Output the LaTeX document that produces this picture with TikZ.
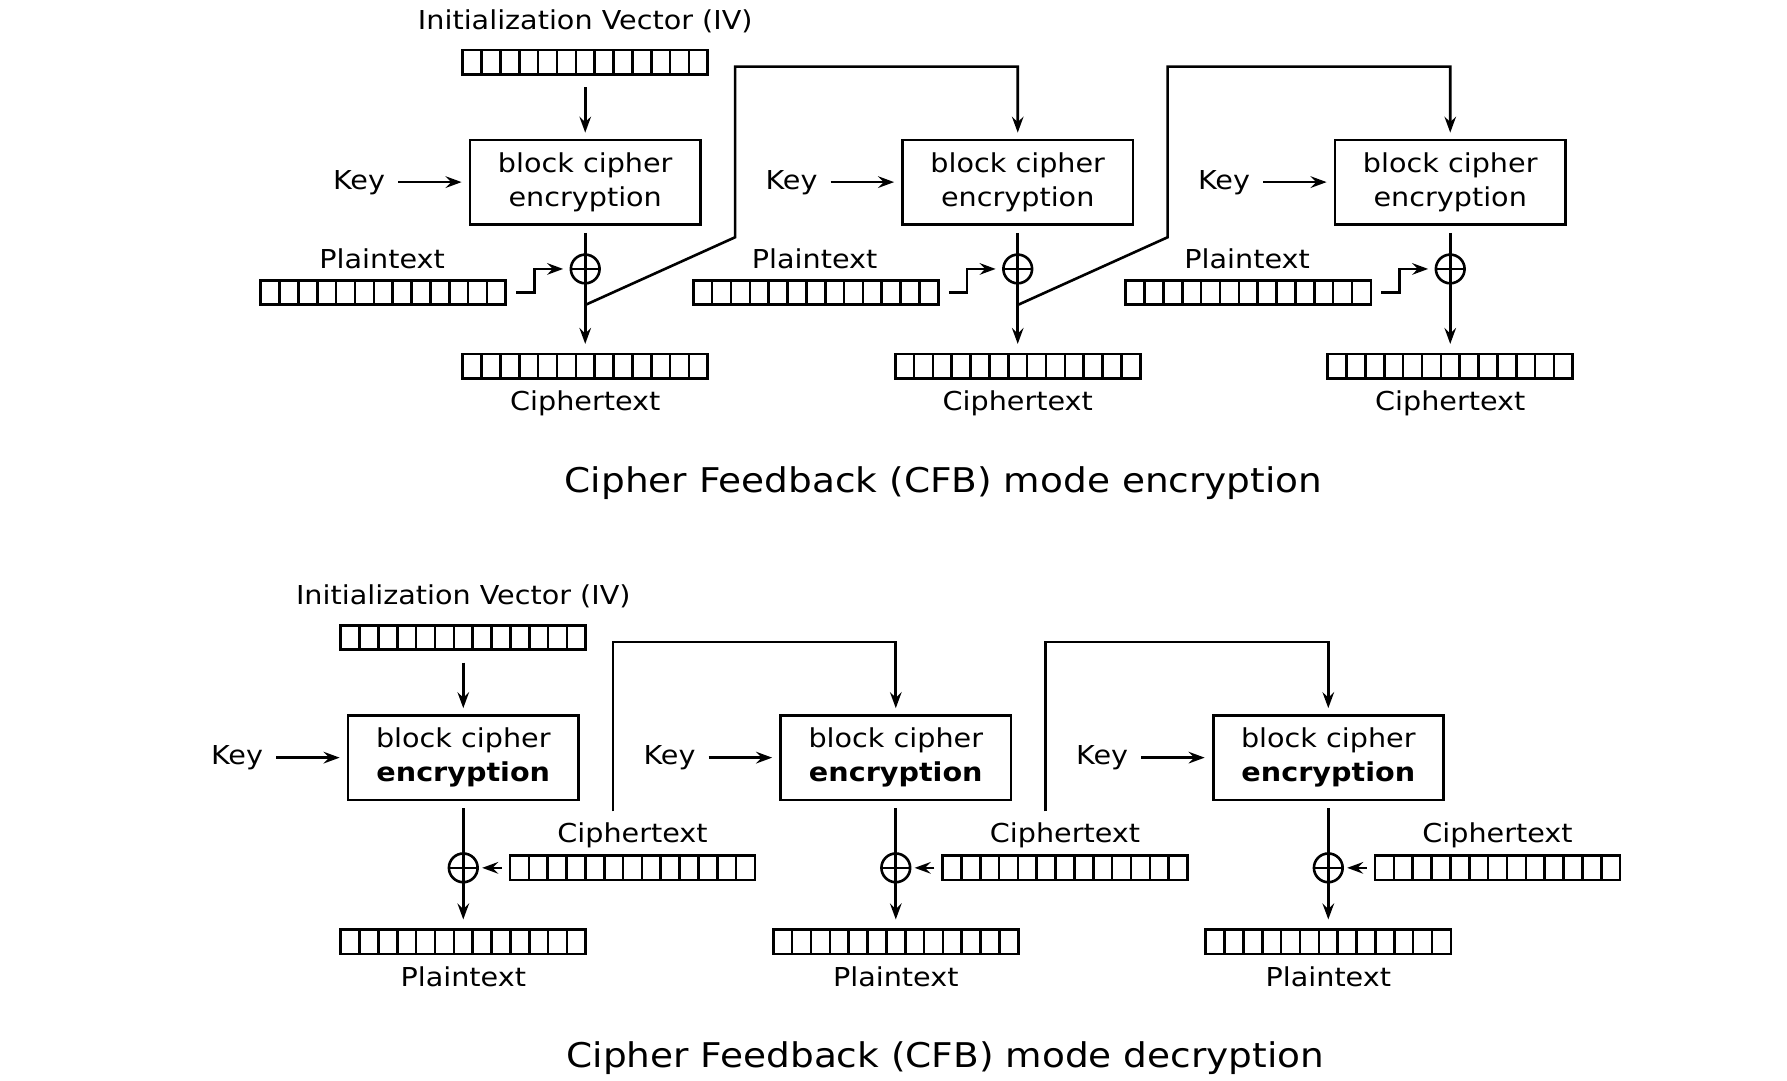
\documentclass[tikz,border=0pt]{standalone}
\usepackage{fontspec}
\setmainfont[FakeStretch=1.1]{DejaVu Sans}
\usetikzlibrary{arrows.meta, positioning, calc}

\begin{document}
\begin{tikzpicture}[
  every node/.style={font=\fontsize{6.5pt}{8.45pt}\selectfont, inner sep=0pt},
  box/.style={draw, line width=0.65pt, minimum width=2.02cm, minimum height=0.74cm,
              align=center},
  reg/.style={draw, line width=0.65pt, minimum width=2.15cm, minimum height=0.213cm,
              path picture={\foreach \k in {1,...,12}
                \draw[line width=0.65pt]
                  ($(path picture bounding box.south west)!\k/13!(path picture bounding box.south east)$)
                  -- ++(0,0.5);}},
  xor/.style={draw, circle, line width=0.65pt, minimum size=0.252cm,
              path picture={\draw[line width=0.65pt]
                (path picture bounding box.west) -- (path picture bounding box.east)
                (path picture bounding box.north) -- (path picture bounding box.south);}},
  lbl/.style={anchor=base},
  ttl/.style={anchor=base, font=\fontsize{8.5pt}{10pt}\selectfont},
  arr/.style={-{Stealth[length=4pt, width=2.9pt, inset=1.4pt]}, line width=0.65pt},
]
  \useasboundingbox (0,0) rectangle (15.68,-9.48);

  % encryption
  \node[lbl] (eivl) at (5.135,-0.257) {Initialization Vector (IV)};
  \node[reg] (eiv) at (5.135,-0.545) {};
  \foreach \i [evaluate=\i as \x using 5.135+3.795*\i] in {0,1,2} {
    \node[box] (eb\i) at (\x,-1.598) {block cipher\\encryption};
    \node[lbl] (ek\i) at (\x-1.985,-1.66) {Key};
    \node[xor] (ex\i) at (\x,-2.36) {};
    \node[reg] (ep\i) at (\x-1.772,-2.567) {};
    \node[lbl] (epl\i) at (\x-1.782,-2.354) {Plaintext};
    \node[reg] (ec\i) at (\x,-3.213) {};
    \node[lbl] (ecl\i) at (\x,-3.603) {Ciphertext};
    \coordinate (ej\i) at (\x,-2.676);
    \coordinate (ef\i) at (\x,-0.585);
    \draw[arr, shorten <=3.1pt, shorten >=1.8pt] (ek\i.east |- eb\i.west) -- (eb\i.west);
    \draw[arr, shorten <=1.8pt, shorten >=2.2pt] (eb\i) -- (ec\i);
    \draw[arr, shorten >=1.6pt] ([xshift=0.082cm]ep\i.east) -- ++(0.16,0) |- (ex\i);
  }
  \draw[arr, shorten <=2.9pt, shorten >=1.5pt] (eiv) -- (eb0);
  \foreach \i/\j in {0/1,1/2}
    \draw[arr, shorten >=1.5pt] (ej\i) -- ++(1.315,0.594) |- (ef\j) -- (eb\j);
  \node[ttl] (etitle) at (8.28,-4.32) {Cipher Feedback (CFB) mode encryption};

  % decryption
  \node[lbl] (divl) at (4.065,-5.307) {Initialization Vector (IV)};
  \node[reg] (div) at (4.065,-5.595) {};
  \foreach \i [evaluate=\i as \x using 4.065+3.795*\i] in {0,1,2} {
    \node[box] (db\i) at (\x,-6.648) {block cipher\\\textbf{encryption}};
    \node[lbl] (dk\i) at (\x-1.985,-6.71) {Key};
    \node[xor] (dx\i) at (\x,-7.615) {};
    \node[reg] (dc\i) at (\x+1.485,-7.615) {};
    \node[lbl] (dcl\i) at (\x+1.485,-7.395) {Ciphertext};
    \node[reg] (dp\i) at (\x,-8.263) {};
    \node[lbl] (dpl\i) at (\x,-8.653) {Plaintext};
    \coordinate (dj\i) at (\x+1.315,-7.12);
    \coordinate (df\i) at (\x,-5.635);
    \draw[arr, shorten <=3.1pt, shorten >=1.8pt] (dk\i.east |- db\i.west) -- (db\i.west);
    \draw[arr, shorten <=1.8pt, shorten >=2.2pt] (db\i) -- (dp\i);
    \draw[arr, shorten <=1.7pt, shorten >=0.8pt] (dc\i) -- (dx\i);
  }
  \draw[arr, shorten <=2.9pt, shorten >=1.5pt] (div) -- (db0);
  \foreach \i/\j in {0/1,1/2}
    \draw[arr, shorten >=1.5pt] (dj\i) |- (df\j) -- (db\j);
  \node[ttl] (dtitle) at (8.295,-9.37) {Cipher Feedback (CFB) mode decryption};
\end{tikzpicture}
\end{document}
